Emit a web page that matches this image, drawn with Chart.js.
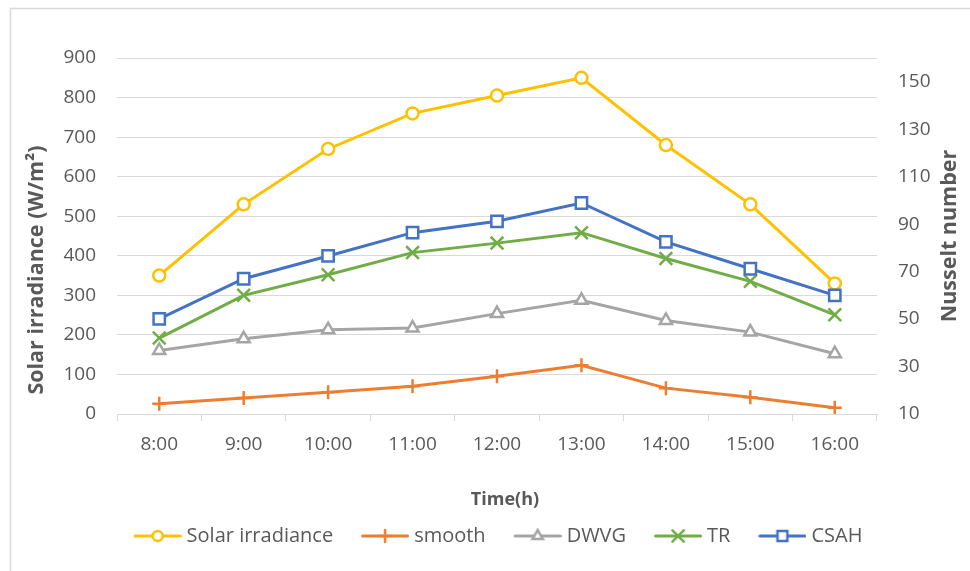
<!DOCTYPE html>
<html>
<head>
<meta charset="utf-8">
<script src="https://cdn.jsdelivr.net/npm/chart.js@4.4.1/dist/chart.umd.min.js"></script>
<style>
  html, body { margin: 0; padding: 0; background: #ffffff; }
  canvas { display: block; }
</style>
</head>
<body>
<canvas id="chart" width="970" height="571"></canvas>
<script>
// Hourly readings
const times = ['8:00', '9:00', '10:00', '11:00', '12:00', '13:00', '14:00', '15:00', '16:00'];
const solarIrradiance = [350, 530, 670, 760, 805, 850, 680, 530, 330];
const nuSmooth = [14.3, 16.7, 19.2, 21.7, 25.9, 30.5, 20.9, 17.1, 12.6];
const nuDWVG = [36.8, 41.7, 45.5, 46.2, 52.3, 57.9, 49.4, 44.5, 35.4];
const nuTR = [42.0, 60.0, 68.7, 78.0, 82.0, 86.4, 75.5, 65.9, 51.8];
const nuCSAH = [50.1, 67.0, 76.6, 86.4, 91.2, 98.9, 82.5, 71.2, 60.0];

// Axis ticks and titles
const irradianceTicks = [0, 100, 200, 300, 400, 500, 600, 700, 800, 900];
const nusseltTicks = [10, 30, 50, 70, 90, 110, 130, 150];
const leftTitle = 'Solar irradiance (W/m\u00B2)';
const rightTitle = 'Nusselt number';
const bottomTitle = 'Time(h)';

const FONT = "'Open Sans', 'Noto Sans', sans-serif";
const TEXT = '#595959';
const GRID = '#d9d9d9';

Chart.defaults.font.family = FONT;
Chart.defaults.color = TEXT;

// legend swatch: a short line with the series marker in its middle
function swatch(color, style, radius, bw) {
  const c = document.createElement('canvas');
  c.width = 71; c.height = 18;
  const g = c.getContext('2d');
  g.strokeStyle = color;
  g.lineWidth = 3;
  g.lineCap = 'round';
  g.beginPath();
  g.moveTo(24.5, 9);
  g.lineTo(69.5, 9);
  g.stroke();
  g.fillStyle = '#ffffff';
  g.lineWidth = bw;
  Chart.helpers.drawPoint(g, { pointStyle: style, radius: radius, borderWidth: bw, rotation: 0 }, 47, 9);
  return c;
}

const series = [
  { label: 'Solar irradiance', data: solarIrradiance, color: '#FFC000', style: 'circle', r: 6, lr: 5, axis: 'y', order: 5 },
  { label: 'smooth', data: nuSmooth, color: '#ED7D31', style: 'cross', r: 7, lr: 6, axis: 'y1', order: 4 },
  { label: 'DWVG', data: nuDWVG, color: '#A5A5A5', style: 'triangle', r: 7, lr: 6, axis: 'y1', order: 3 },
  { label: 'TR', data: nuTR, color: '#70AD47', style: 'crossRot', r: 9, lr: 8, axis: 'y1', order: 2 },
  { label: 'CSAH', data: nuCSAH, color: '#4472C4', style: 'rect', r: 8, lr: 7, axis: 'y1', order: 1 }
];
const swatches = series.map(s => swatch(s.color, s.style, s.lr, 2.5));

const datasets = series.map(s => ({
  label: s.label,
  data: s.data,
  yAxisID: s.axis,
  order: s.order,
  borderColor: s.color,
  backgroundColor: '#ffffff',
  borderWidth: 3,
  tension: 0,
  pointStyle: s.style,
  pointRadius: s.r,
  pointBorderWidth: 2.5,
  pointBackgroundColor: '#ffffff',
  pointBorderColor: s.color
}));

// outer frame and axis titles
const decor = {
  id: 'decor',
  beforeDraw(chart) {
    const ctx = chart.ctx;
    ctx.save();
    ctx.fillStyle = '#ffffff';
    ctx.fillRect(0, 0, chart.width, chart.height);
    ctx.strokeStyle = GRID;
    ctx.lineWidth = 1.5;
    ctx.beginPath();
    ctx.moveTo(10.5, chart.height);
    ctx.lineTo(10.5, 8.5);
    ctx.lineTo(chart.width, 8.5);
    ctx.stroke();
    ctx.restore();
  },
  afterDraw(chart) {
    const ctx = chart.ctx;
    ctx.save();
    ctx.fillStyle = TEXT;
    ctx.textAlign = 'center';
    ctx.textBaseline = 'middle';
    ctx.font = 'bold 21.5px ' + FONT;
    ctx.save();
    ctx.translate(37, 270);
    ctx.rotate(-Math.PI / 2);
    ctx.fillText(leftTitle, 0, 0);
    ctx.restore();
    ctx.save();
    ctx.translate(950, 236);
    ctx.rotate(-Math.PI / 2);
    ctx.fillText(rightTitle, 0, 0);
    ctx.restore();
    ctx.font = 'bold 18px ' + FONT;
    ctx.fillText(bottomTitle, 505, 500);
    ctx.restore();
  }
};

new Chart(document.getElementById('chart'), {
  type: 'line',
  data: { labels: times, datasets: datasets },
  plugins: [decor],
  options: {
    responsive: false,
    devicePixelRatio: 1,
    animation: false,
    layout: { padding: { top: 58, bottom: 15, left: 8, right: 0 } },
    plugins: {
      tooltip: { enabled: false },
      legend: {
        position: 'bottom',
        fullSize: true,
        labels: {
          usePointStyle: true,
          pointStyleWidth: 61,
          padding: 10,
          color: TEXT,
          font: { size: 20 },
          sort: (a, b) => a.datasetIndex - b.datasetIndex,
          generateLabels(chart) {
            const items = Chart.defaults.plugins.legend.labels.generateLabels(chart);
            items.forEach(it => { it.pointStyle = swatches[it.datasetIndex]; });
            return items;
          }
        }
      }
    },
    scales: {
      x: {
        type: 'category',
        offset: true,
        grid: { offset: true, drawOnChartArea: false, drawTicks: true, tickLength: 7, color: GRID, lineWidth: 1 },
        border: { display: true, color: GRID, width: 1 },
        ticks: { padding: 12, color: TEXT, font: { size: 19 }, maxRotation: 0, autoSkip: false },
        afterFit(s) { s.height = 102; }
      },
      y: {
        position: 'left',
        min: 0,
        max: 900,
        grid: { color: GRID, lineWidth: 1, drawTicks: false },
        border: { display: false },
        ticks: { padding: 21, color: TEXT, font: { size: 19 } },
        afterBuildTicks(s) { s.ticks = irradianceTicks.map(v => ({ value: v })); },
        afterFit(s) { s.width = 109; }
      },
      y1: {
        position: 'right',
        min: 10,
        max: 160,
        grid: { drawOnChartArea: false, drawTicks: false },
        border: { display: false },
        ticks: { padding: 21, color: TEXT, font: { size: 19 } },
        afterBuildTicks(s) { s.ticks = nusseltTicks.map(v => ({ value: v })); },
        afterFit(s) { s.width = 93; }
      }
    }
  }
});
</script>
</body>
</html>
